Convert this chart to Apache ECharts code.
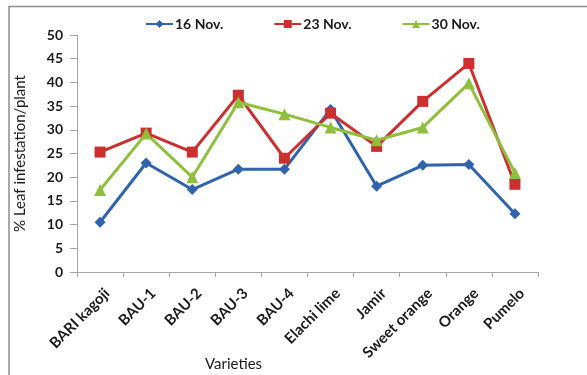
<!DOCTYPE html>
<html>
<head>
<meta charset="utf-8">
<script src="https://cdn.jsdelivr.net/npm/echarts@6/dist/echarts.min.js"></script>
<style>
  html, body { margin: 0; padding: 0; background: #ffffff; }
  #chart { width: 587px; height: 375px; }
</style>
</head>
<body>
<div id="chart"></div>
<script>
// Citrus varieties on the category axis
const varieties = ['BARI kagoji', 'BAU-1', 'BAU-2', 'BAU-3', 'BAU-4', 'Elachi lime', 'Jamir', 'Sweet orange', 'Orange', 'Pumelo'];

// % leaf infestation per plant at each observation date
const nov16 = [10.5, 23.0, 17.4, 21.7, 21.7, 34.3, 18.1, 22.5, 22.7, 12.3];
const nov23 = [25.3, 29.3, 25.3, 37.3, 24.0, 33.5, 26.5, 36.0, 44.0, 18.5];
const nov30 = [17.3, 29.2, 20.0, 35.8, 33.3, 30.5, 27.8, 30.5, 39.8, 20.9];

const seriesNames = ['16 Nov.', '23 Nov.', '30 Nov.'];
const yTicks = { min: 0, max: 50, step: 5 };

const FONT = 'Lato, "Open Sans", sans-serif';
const AXIS_GRAY = '#a6a6a6';

const chart = echarts.init(document.getElementById('chart'), null, { renderer: 'canvas' });

function lineSeries(name, data, color, symbol, size) {
  return {
    name: name,
    type: 'line',
    data: data,
    symbol: symbol,
    symbolSize: size,
    lineStyle: { color: color, width: 3 },
    itemStyle: { color: color },
    emphasis: { disabled: true },
    z: 3
  };
}

chart.setOption({
  animation: false,
  backgroundColor: '#ffffff',
  textStyle: { fontFamily: FONT },
  graphic: [
    // chart-area frame (top and left edges)
    { type: 'line', shape: { x1: 9, y1: 6.5, x2: 587, y2: 6.5 }, style: { stroke: '#8c8c8c', lineWidth: 1.5 }, silent: true },
    { type: 'line', shape: { x1: 9, y1: 6, x2: 9, y2: 375 }, style: { stroke: '#8c8c8c', lineWidth: 1.5 }, silent: true }
  ],
  legend: {
    top: 12,
    left: 140,
    itemWidth: 27,
    itemHeight: 10,
    itemGap: 50,
    textStyle: { fontFamily: FONT, fontWeight: 'bold', fontSize: 14, color: '#1a1a1a', padding: [0, 0, 0, -3] },
    data: seriesNames
  },
  grid: { left: 77, right: 49, top: 35, bottom: 103, containLabel: false, outerBoundsMode: 'none' },
  xAxis: {
    type: 'category',
    data: varieties,
    boundaryGap: true,
    name: 'Varieties',
    nameLocation: 'middle',
    nameGap: 85,
    nameMoveOverlap: false,
    nameTextStyle: { fontFamily: FONT, fontSize: 15, color: '#1a1a1a', padding: [0, 148, 0, 0] },
    axisLine: { show: true, lineStyle: { color: AXIS_GRAY, width: 1 } },
    axisTick: { show: true, length: 5, lineStyle: { color: AXIS_GRAY } },
    axisLabel: {
      rotate: 45,
      interval: 0,
      margin: 26,
      padding: [0, -10, 0, 0],
      fontFamily: FONT,
      fontWeight: 'bold',
      fontSize: 15,
      color: '#1a1a1a'
    },
    splitLine: { show: false }
  },
  yAxis: {
    type: 'value',
    min: yTicks.min,
    max: yTicks.max,
    interval: yTicks.step,
    name: '% Leaf infestation/plant',
    nameLocation: 'middle',
    nameGap: 49,
    nameMoveOverlap: false,
    nameTextStyle: { fontFamily: FONT, fontSize: 15, color: '#1a1a1a' },
    axisLine: { show: true, lineStyle: { color: AXIS_GRAY, width: 1 } },
    axisTick: { show: true, length: 7, lineStyle: { color: AXIS_GRAY } },
    axisLabel: { margin: 14, fontFamily: FONT, fontWeight: 'bold', fontSize: 14, color: '#1a1a1a' },
    splitLine: { show: false }
  },
  series: [
    lineSeries(seriesNames[0], nov16, '#2f64ad', 'diamond', 11),
    lineSeries(seriesNames[1], nov23, '#cc2f2f', 'rect', 11),
    lineSeries(seriesNames[2], nov30, '#8fbf3c', 'triangle', 12)
  ]
});
</script>
</body>
</html>
